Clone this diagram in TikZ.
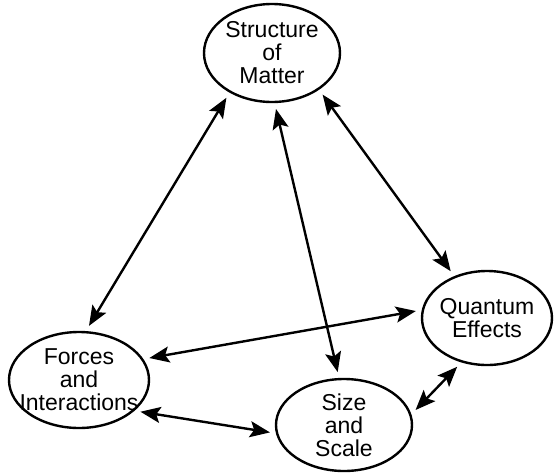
\documentclass[tikz,border=0pt]{standalone}
\usepackage{fontspec}
\setmainfont{Liberation Sans}
\usetikzlibrary{shapes.geometric,arrows.meta}

\begin{document}
\begin{tikzpicture}[x=1pt,y=-1pt,
	topic/.style={ellipse,draw,line width=2.4pt,inner sep=-16pt,align=center,font=\fontsize{23}{23}\selectfont},
	link/.style={{Stealth[length=20pt,width=16pt,inset=4pt]}-{Stealth[length=20pt,width=16pt,inset=4pt]},line width=2.4pt,shorten <=6pt,shorten >=6pt}]
	\useasboundingbox (0,0) rectangle (555,472);

	\node[topic,minimum width=136pt,minimum height=98pt] (matter) at (272,53) {Structure\\of\\Matter};
	\node[topic,minimum width=130pt,minimum height=94pt] (quantum) at (487,318) {Quantum\\Effects};
	\node[topic,minimum width=140pt,minimum height=96pt] (forces) at (79,380) {Forces\\and\\Interactions};
	\node[topic,minimum width=136pt,minimum height=92pt] (size) at (344,425) {Size\\and\\Scale};

	\draw[link] (matter.223) -- (forces.82);
	\draw[link] (matter.273) -- (size.96);
	\draw[link] (matter.322) -- (quantum.128);
	\draw[link] (forces.18) -- (quantum.173);
	\draw[link] (forces.331) -- (size.187);
	\draw[link] (size.9) -- (quantum.240);
\end{tikzpicture}
\end{document}
